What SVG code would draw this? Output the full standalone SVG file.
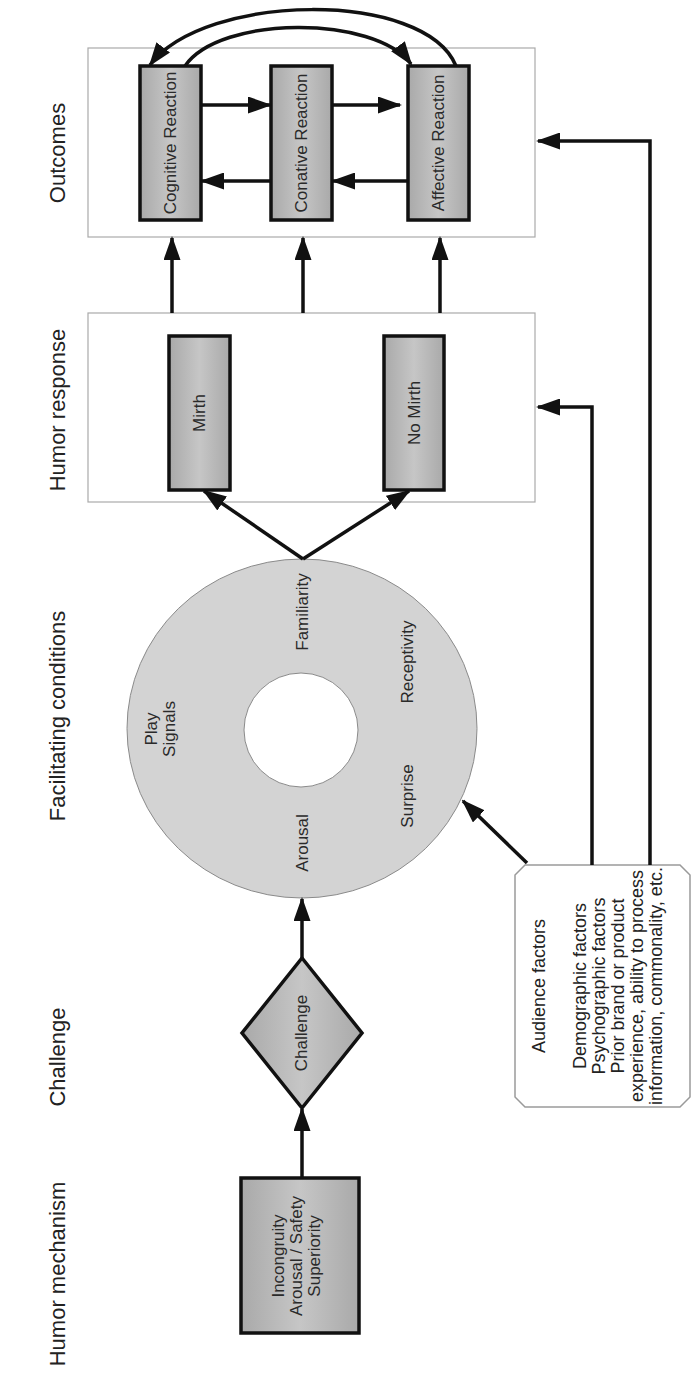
<svg xmlns="http://www.w3.org/2000/svg" width="693" height="1377" viewBox="0 0 693 1377">
<style>
text{font-family:"Liberation Sans",Arial,sans-serif;fill:#222;text-anchor:middle}
.col{font-size:22px}
.lbl{font-size:17px;fill:#2a2a2a}
.aud{font-size:18px}
.frame{fill:#fff;stroke:#aaa;stroke-width:1.2}
.node{fill:url(#g);stroke:#111;stroke-width:3.5}
.conn{fill:none;stroke:#111;stroke-width:3.5;marker-end:url(#ah)}
</style>
<defs>
<linearGradient id="g" x1="0" y1="0" x2="1" y2="0">
<stop offset="0" stop-color="#a9a9a9"/>
<stop offset="0.5" stop-color="#c6c6c6"/>
<stop offset="1" stop-color="#a9a9a9"/>
</linearGradient>
<marker id="ah" markerUnits="userSpaceOnUse" markerWidth="24" markerHeight="17" refX="22" refY="8.5" orient="auto">
<path d="M0,0 L24,8.5 L0,17 Z" fill="#111"/>
</marker>
</defs>
<rect width="693" height="1377" fill="#fff"/>

<g id="column-labels">
<text class="col" transform="translate(65,153) rotate(-90)">Outcomes</text>
<text class="col" transform="translate(65,410) rotate(-90)">Humor response</text>
<text class="col" transform="translate(65,716) rotate(-90)">Facilitating conditions</text>
<text class="col" transform="translate(65,1057) rotate(-90)">Challenge</text>
<text class="col" transform="translate(65,1274) rotate(-90)">Humor mechanism</text>
</g>

<g id="outcomes-box"><rect class="frame" x="88" y="48" width="447" height="189"/></g>
<g id="humor-response-box"><rect class="frame" x="88" y="313" width="447" height="189"/></g>

<g id="cognitive">
<rect class="node" x="140" y="66" width="61" height="154"/>
<text class="lbl" transform="translate(176,143) rotate(-90)">Cognitive Reaction</text>
</g>
<g id="conative">
<rect class="node" x="271" y="66" width="61" height="154"/>
<text class="lbl" transform="translate(307,143) rotate(-90)">Conative Reaction</text>
</g>
<g id="affective">
<rect class="node" x="408" y="66" width="61" height="154"/>
<text class="lbl" transform="translate(444,143) rotate(-90)">Affective Reaction</text>
</g>
<g id="mirth">
<rect class="node" x="169" y="336" width="61" height="154"/>
<text class="lbl" transform="translate(205,413) rotate(-90)">Mirth</text>
</g>
<g id="no-mirth">
<rect class="node" x="384" y="336" width="60" height="154"/>
<text class="lbl" transform="translate(420,413) rotate(-90)">No Mirth</text>
</g>

<g id="facilitating-conditions">
<path d="M127,728.5 a175,169.5 0 1,0 350,0 a175,169.5 0 1,0 -350,0 Z M244,730 a57,57 0 1,0 114,0 a57,57 0 1,0 -114,0 Z" fill="#d3d3d3" fill-rule="evenodd" stroke="#8a8a8a" stroke-width="1"/>
<text class="lbl" transform="translate(308,612) rotate(-90)">Familiarity</text>
<text class="lbl" transform="translate(413,662) rotate(-90)">Receptivity</text>
<text class="lbl" transform="translate(157,729) rotate(-90)"><tspan x="0" dy="0">Play</tspan><tspan x="0" dy="18">Signals</tspan></text>
<text class="lbl" transform="translate(308,843) rotate(-90)">Arousal</text>
<text class="lbl" transform="translate(413,796) rotate(-90)">Surprise</text>
</g>

<g id="challenge">
<path class="node" d="M302,958 L362,1033 L302,1108 L242,1033 Z"/>
<text class="lbl" transform="translate(307,1033) rotate(-90)">Challenge</text>
</g>

<g id="humor-mechanism">
<rect class="node" x="241" y="1178" width="118" height="155"/>
<text class="lbl" transform="translate(284,1256) rotate(-90)"><tspan x="0" dy="0">Incongruity</tspan><tspan x="0" dy="18">Arousal / Safety</tspan><tspan x="0" dy="18">Superiority</tspan></text>
</g>

<g id="audience-factors">
<path d="M525,865 H680 L690,875 V1097 L680,1107 H525 L515,1097 V875 Z" fill="#fff" stroke="#9a9a9a" stroke-width="1.5"/>
<text class="aud" transform="translate(545,986) rotate(-90)">Audience factors</text>
<text class="aud" transform="translate(586,986) rotate(-90)"><tspan x="0" dy="0">Demographic factors</tspan><tspan x="0" dy="19">Psychographic factors</tspan><tspan x="0" dy="19">Prior brand or product</tspan><tspan x="0" dy="19">experience, ability to process</tspan><tspan x="0" dy="19">information, commonality, etc.</tspan></text>
</g>

<g id="connectors">
<path class="conn" d="M201,105 H270"/>
<path class="conn" d="M332,105 H400"/>
<path class="conn" d="M408,181 H333"/>
<path class="conn" d="M271,181 H202"/>
<path class="conn" d="M456,66 C425,-10 205,-8 150,65"/>
<path class="conn" d="M185,66 C220,15 375,15 411,64"/>
<path class="conn" d="M172,313 V238"/>
<path class="conn" d="M303,313 V238"/>
<path class="conn" d="M440,313 V238"/>
<path class="conn" d="M303,559 L204,491"/>
<path class="conn" d="M303,559 L409,491"/>
<path class="conn" d="M302,958 V899"/>
<path class="conn" d="M302,1177 V1109"/>
<path class="conn" d="M527,863 L463,801"/>
<path class="conn" d="M592,865 V407 H538"/>
<path class="conn" d="M650,865 V141 H538"/>
</g>
</svg>
